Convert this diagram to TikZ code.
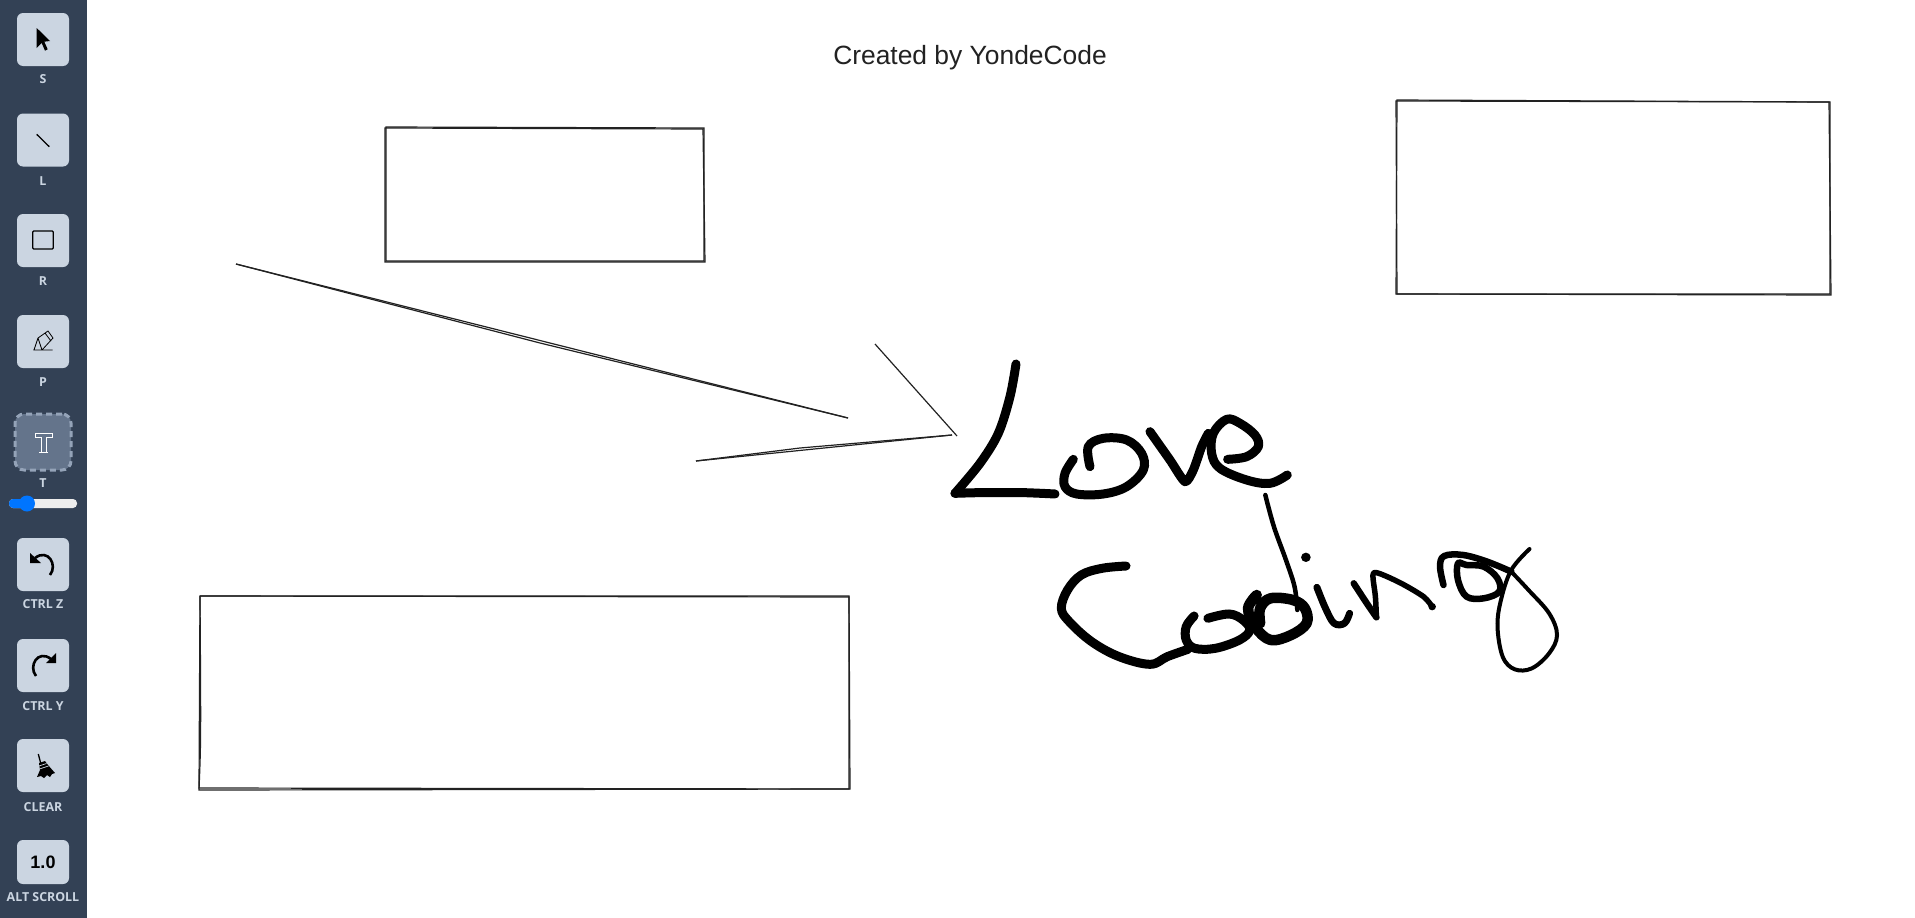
\documentclass[tikz,border=0pt]{standalone}
\usepackage{fontspec}
\setmainfont{Liberation Sans}
\newfontfamily\labelfont{Open Sans}
\usepackage{xcolor}
\definecolor{sidebar}{HTML}{334155}
\definecolor{btnfill}{HTML}{CBD5E1}
\definecolor{btnactive}{HTML}{64748B}
\definecolor{btndash}{HTML}{94A3B8}
\definecolor{knob}{HTML}{0075FF}
\definecolor{ink}{HTML}{222222}
\tikzset{%
	toolbtn/.style={
		rectangle,
		rounded corners=6pt,
		fill=btnfill,
		minimum width=52pt,
		minimum height=53pt,
		inner sep=0pt
	},
	toollabel/.style={
		font=\labelfont\bfseries\fontsize{12.4}{14}\selectfont,
		text=btnfill,
		inner sep=0pt
	},
	roughline/.style={
		draw=ink,
		line width=1.2pt
	},
	inkstroke/.style={
		draw=black,
		line width=9pt,
		line cap=round,
		line join=round
	},
}

\begin{document}
\begin{tikzpicture}[x=1pt,y=-1pt]
	\useasboundingbox (0,0) rectangle (1915,918);
	\fill[white] (0,0) rectangle (1915,918);
	\fill[sidebar] (0,0) rectangle (87,918);

	% Title
	\node[text=ink,font=\fontsize{26.4}{30}\selectfont] (title) at (970,57.5) {Created by YondeCode};

	% Toolbar buttons
	\node[toolbtn] (btnselect) at (43,39.5) {};
	\node[toolbtn] (btnline) at (43,140) {};
	\node[toolbtn] (btnrect) at (43,240.5) {};
	\node[toolbtn] (btnpencil) at (43,341.5) {};
	\node[toolbtn,fill=btnactive,draw=btndash,dash pattern=on 6pt off 4pt,line width=3pt,minimum width=56pt,minimum height=56pt,rounded corners=9pt] (btntext) at (43,442) {};
	\node[toolbtn] (btnundo) at (43,564.5) {};
	\node[toolbtn] (btnredo) at (43,665.5) {};
	\node[toolbtn] (btnclear) at (43,765.5) {};
	\node[toolbtn,minimum height=44pt] (btnscale) at (43,862) {};

	% Labels
	\node[toollabel] (lblselect) at (43,79) {S};
	\node[toollabel] (lblline) at (43,181) {L};
	\node[toollabel] (lblrect) at (43,281) {R};
	\node[toollabel] (lblpencil) at (43,382) {P};
	\node[toollabel] (lbltext) at (43,483) {T};
	\node[toollabel] (lblundo) at (43,604) {CTRL Z};
	\node[toollabel] (lblredo) at (43,706) {CTRL Y};
	\node[toollabel] (lblclear) at (43,807) {CLEAR};
	\node[toollabel] (lblscroll) at (43,897) {ALT SCROLL};
	\node[font=\bfseries\fontsize{18}{20}\selectfont,inner sep=0pt] (lblscale) at (btnscale) {1.0};

	% Slider
	\fill[white!93!black,rounded corners=4pt] (9,499) rectangle (77,508);
	\fill[knob,rounded corners=4pt] (9,499) rectangle (27,508);
	\fill[knob] (27,503.5) circle (8);

	% Icons
	\fill[black] (36.7,28) -- (36.7,48) -- (41.7,43) -- (45,50.7) -- (47.7,49.3) -- (44.3,41.7) -- (50,41) -- cycle;
	\draw[black,line width=1.3pt] (36.7,134.3) -- (49.3,146.7);
	\draw[black,line width=1.3pt,rounded corners=1pt] (32.7,231) rectangle (53.3,249);
	\draw[black,line width=.8pt] (33.3,350) -- (52.7,350) (34,350) -- (38,338) -- (48,331) -- (53,338) -- (42,350) -- cycle (38,338) -- (42,350) (45,333) -- (51,341);
	\draw[white,line width=1pt] (35,433) -- (52,433) -- (52,437) -- (46,437) -- (46,452) -- (48,452) (35,433) -- (35,437) -- (41,437) -- (41,452) -- (39,452) (39,452) -- (48,452);
	\draw[black,line width=2.6pt] (50,575) .. controls (58,565) and (48,548) .. (35,558);
	\fill[black] (30,553) -- (30,563) -- (41,563) -- cycle;
	\draw[black,line width=2.6pt] (36,676) .. controls (28,666) and (38,649) .. (51,659);
	\fill[black] (56,653) -- (56,663) -- (46,663) -- cycle;
	\draw[black,line width=1.3pt] (38.3,754) -- (41.7,767);
	\fill[black] (39,763) -- (45,761) -- (48,765) -- (55,773) -- (52,774) -- (50,777) -- (47,775) -- (44,778) -- (41,776) -- (37,777) -- (40,770) -- cycle;
	\draw[btnfill,line width=.7pt] (39,766) -- (46.5,763.5) (39.5,769) -- (48.5,766);

	% Rectangles
	\draw[roughline] (386,127) -- (704,128) -- (704,261) -- (386,261) -- cycle;
	\draw[roughline] (385,128) -- (703,129) -- (705,262) -- (385,262) -- cycle;
	\draw[roughline] (1396,101) -- (1830,102) -- (1830,294) -- (1397,294) -- cycle;
	\draw[roughline] (1397,100) -- (1829,102) -- (1831,295) -- (1396,294) -- cycle;
	\draw[roughline] (200,596) -- (849,597) -- (849,789) -- (199,788) -- cycle;
	\draw[roughline] (200,596) -- (849,596) -- (850,789) -- (199,790) .. controls (201,740) .. (200,596);

	% Lines
	\draw[roughline] (236,264) -- (848,418);
	\draw[roughline] (236,264) -- (540,343) -- (848,418);
	\draw[roughline] (875,344) -- (957,436);
	\draw[roughline] (696,461) -- (952,435);
	\draw[roughline] (696,461) -- (800,448) -- (952,435);

	% Love
	\begin{scope}[shift={(930,340)},x=.3333pt,y=-.3333pt]
		\draw[inkstroke] plot[smooth,tension=.55] coordinates {(258,72) (240,170) (205,280) (150,370) (75,460)};
		\draw[inkstroke] plot[smooth,tension=.4] coordinates {(75,460) (150,458) (280,458) (375,462)};
		\draw[inkstroke] plot[smooth,tension=.6] coordinates {(430,358) (405,400) (405,440) (440,462) (520,462) (590,440) (640,390) (635,340) (590,300) (520,295) (475,320) (480,380)};
		\draw[inkstroke] plot[smooth,tension=.4] coordinates {(660,275) (720,360) (765,425) (790,390) (815,320) (835,280)};
		\draw[inkstroke] plot[smooth,tension=.6] coordinates {(893,358) (950,350) (985,320) (975,285) (930,250) (890,238) (850,280) (845,340) (870,385) (950,420) (1020,430) (1072,405)};
	\end{scope}

	% Coding
	\begin{scope}[shift={(1040,480)},x=.344pt,y=-.3333pt]
		\draw[inkstroke] plot[smooth,tension=.6] coordinates {(250,258) (180,265) (120,285) (80,330) (62,385) (85,425) (150,485) (230,530) (320,553) (370,530) (430,508)};
		\draw[inkstroke] plot[smooth,tension=.6] coordinates {(448,408) (425,440) (425,480) (450,505) (510,505) (580,480) (610,450) (590,420) (550,402) (488,415)};
		\draw[inkstroke,line width=10.5pt] plot[smooth,tension=.6] coordinates {(630,345) (605,385) (625,440) (670,480) (730,465) (775,430) (770,385) (735,360) (670,355) (640,385) (640,430)};
		\draw[inkstroke,line width=4.5pt] plot[smooth,tension=.6] coordinates {(655,45) (680,140) (715,240) (740,320) (748,390)};
		\fill[black] (773,232) circle[x radius=14,y radius=14];
		\draw[inkstroke,line width=7pt] plot[smooth,tension=.6] coordinates {(805,322) (830,385) (855,430) (885,430) (900,400)};
		\draw[inkstroke,line width=6.5pt] plot[smooth,tension=.4] coordinates {(912,310) (950,370) (978,412)};
		\draw[inkstroke,line width=5.5pt] plot[smooth,tension=.5] coordinates {(978,412) (975,350) (968,285) (985,280) (1050,310) (1115,350) (1140,380)};
		\fill[black] (1140,380) circle (11);
		\draw[inkstroke,line width=6.5pt] plot[smooth,tension=.6] coordinates {(1173,315) (1163,260) (1175,228) (1230,225) (1300,245) (1370,275)};
		\draw[inkstroke,line width=4pt] plot[smooth,tension=.6] coordinates {(1370,275) (1420,330) (1480,400) (1503,465) (1480,520) (1430,565) (1380,568) (1345,530) (1330,440) (1340,360) (1370,270) (1423,207)};
		\draw[inkstroke,line width=6.5pt] plot[smooth cycle,tension=.6] coordinates {(1215,250) (1215,300) (1240,350) (1290,355) (1335,335) (1330,295) (1290,260) (1240,255)};
	\end{scope}
\end{tikzpicture}
\end{document}
